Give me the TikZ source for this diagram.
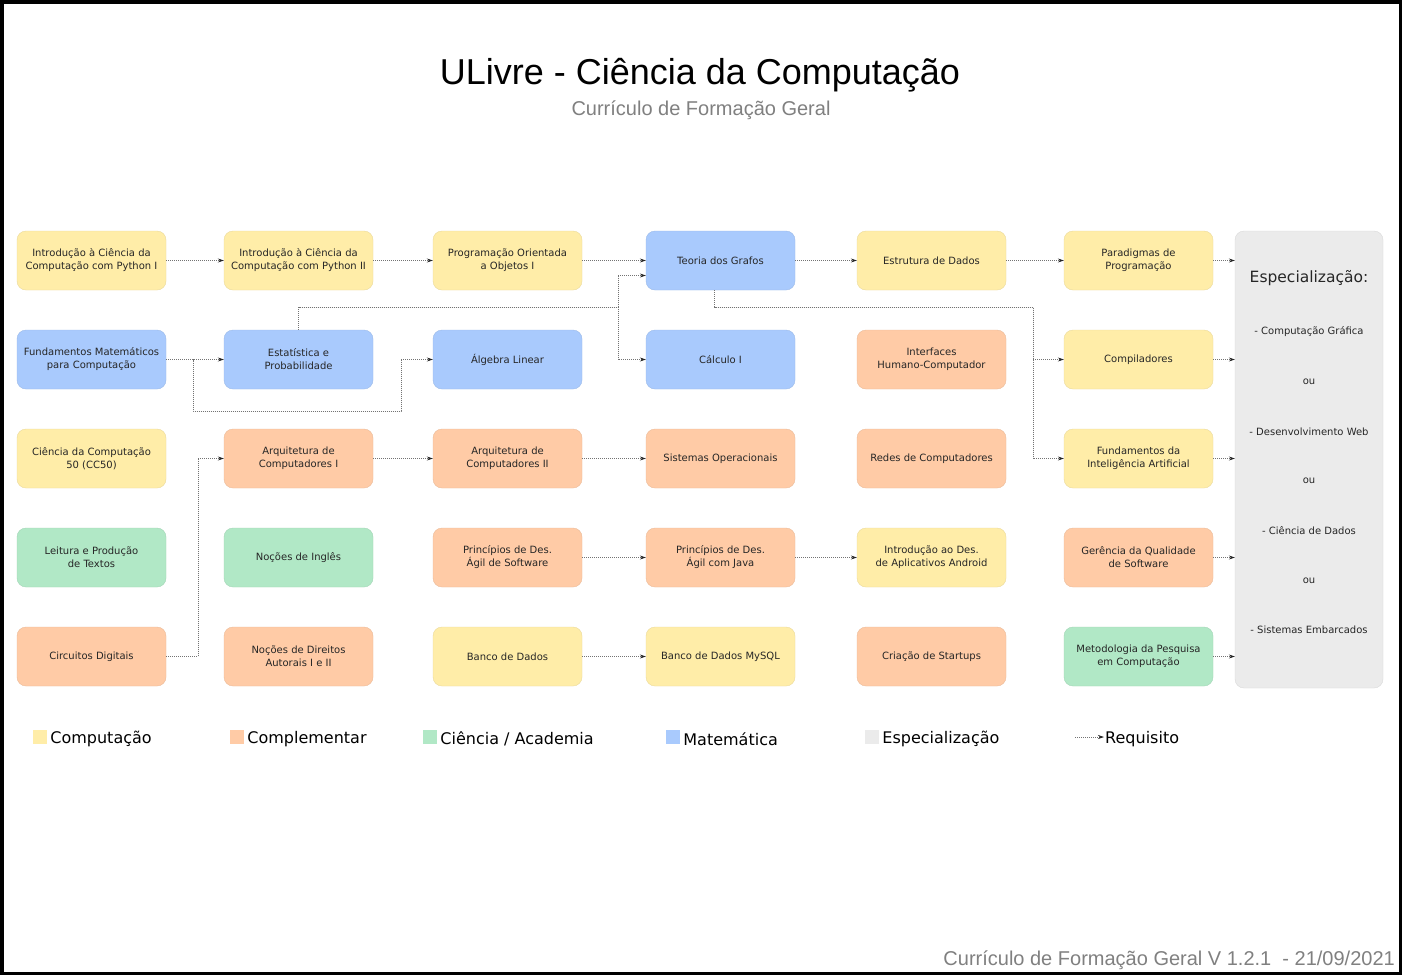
\documentclass[tikz,border=0pt]{standalone}
\usepackage{fontspec}
\usepackage{xcolor}
\usepackage{tikz}
\usetikzlibrary{arrows.meta,positioning,calc}
\newfontfamily\ulsans{DejaVu Sans}
\newfontfamily\ulhead{Liberation Sans}
\definecolor{UlComp}{HTML}{FFEDA8}
\definecolor{UlCompl}{HTML}{FFCBA6}
\definecolor{UlAcad}{HTML}{B1E8C6}
\definecolor{UlMat}{HTML}{A9CAFD}
\definecolor{UlEspec}{HTML}{EBEBEB}
\definecolor{UlGray}{HTML}{808080}
\tikzset{
  curso/.style={rounded corners=9pt, minimum width=149pt, minimum height=59pt,
    align=center, inner sep=2pt, line width=0.4pt, text=black!85,
    font=\ulsans\fontsize{10}{13}\selectfont},
  comp/.style={curso, fill=UlComp, draw=UlComp!92!black},
  compl/.style={curso, fill=UlCompl, draw=UlCompl!92!black},
  acad/.style={curso, fill=UlAcad, draw=UlAcad!92!black},
  mat/.style={curso, fill=UlMat, draw=UlMat!92!black},
  req/.style={draw=black!55, line width=0.7pt, dash pattern=on 1pt off 1pt,
    -{Stealth[length=6pt,width=4pt,color=black!85]}},
  legsq/.style={minimum size=14pt, inner sep=0pt},
  legtxt/.style={inner sep=0pt, yshift=-2pt, text=black, font=\ulsans\fontsize{16}{19}\selectfont},
}
\begin{document}
\begin{tikzpicture}[x=1pt,y=-1pt]
  \useasboundingbox[fill=white] (0,0) rectangle (1402,975);
  \draw[line width=3.5pt] (1.75,1.75) rectangle (1400.25,973.25);

  % titulo
  \node[anchor=base, font=\ulhead\fontsize{36}{40}\selectfont] (titulo) at (700,84)
    {ULivre - Ciência da Computação};
  \node[anchor=base, text=UlGray, font=\ulhead\fontsize{20}{24}\selectfont] (subtitulo) at (701,115)
    {Currículo de Formação Geral};

  % linha 1
  \node[comp] (py1) at (91.5,260.5) {Introdução à Ciência da\\Computação com Python I};
  \node[comp] (py2) at (298.5,260.5) {Introdução à Ciência da\\Computação com Python II};
  \node[comp] (poo) at (507.5,260.5) {Programação Orientada\\a Objetos I};
  \node[mat] (grafos) at (720.5,260.5) {Teoria dos Grafos};
  \node[comp] (ed) at (931.5,260.5) {Estrutura de Dados};
  \node[comp] (paradigmas) at (1138.5,260.5) {Paradigmas de\\Programação};

  % linha 2
  \node[mat] (fundmat) at (91.5,359.5) {Fundamentos Matemáticos\\para Computação};
  \node[mat] (estat) at (298.5,359.5) {Estatística e\\Probabilidade};
  \node[mat] (algebra) at (507.5,359.5) {Álgebra Linear};
  \node[mat] (calculo) at (720.5,359.5) {Cálculo I};
  \node[compl] (ihc) at (931.5,359.5) {Interfaces\\Humano-Computador};
  \node[comp] (compil) at (1138.5,359.5) {Compiladores};

  % linha 3
  \node[comp] (cc50) at (91.5,458.5) {Ciência da Computação\\50 (CC50)};
  \node[compl] (arq1) at (298.5,458.5) {Arquitetura de\\Computadores I};
  \node[compl] (arq2) at (507.5,458.5) {Arquitetura de\\Computadores II};
  \node[compl] (so) at (720.5,458.5) {Sistemas Operacionais};
  \node[compl] (redes) at (931.5,458.5) {Redes de Computadores};
  \node[comp] (ia) at (1138.5,458.5) {Fundamentos da\\Inteligência Artificial};

  % linha 4
  \node[acad] (leitura) at (91.5,557.5) {Leitura e Produção\\de Textos};
  \node[acad] (ingles) at (298.5,557.5) {Noções de Inglês};
  \node[compl] (agilsw) at (507.5,557.5) {Princípios de Des.\\Ágil de Software};
  \node[compl] (agiljava) at (720.5,557.5) {Princípios de Des.\\Ágil com Java};
  \node[comp] (android) at (931.5,557.5) {Introdução ao Des.\\de Aplicativos Android};
  \node[compl] (gqs) at (1138.5,557.5) {Gerência da Qualidade\\de Software};

  % linha 5
  \node[compl] (circuitos) at (91.5,656.5) {Circuitos Digitais};
  \node[compl] (direitos) at (298.5,656.5) {Noções de Direitos\\Autorais I e II};
  \node[comp] (bd) at (507.5,656.5) {Banco de Dados};
  \node[comp] (mysql) at (720.5,656.5) {Banco de Dados MySQL};
  \node[compl] (startups) at (931.5,656.5) {Criação de Startups};
  \node[acad] (metodo) at (1138.5,656.5) {Metodologia da Pesquisa\\em Computação};

  % especializacao
  \node[rounded corners=9pt, minimum width=148pt, minimum height=457pt,
        fill=UlEspec, draw=black!15, line width=0.4pt] (spec) at (1309,459.5) {};
  \node[text=black!85, font=\ulsans\fontsize{15.5}{18}\selectfont] (spectitulo) at (1309,278)
    {Especialização:};
  \foreach \txt [count=\i] in {- Computação Gráfica, ou, - Desenvolvimento Web, ou,
                               - Ciência de Dados, ou, - Sistemas Embarcados}
    \node[text=black!85, font=\ulsans\fontsize{10}{13}\selectfont] (spec\i)
      at (1309,{332+(\i-1)*49.7}) {\txt};

  % requisitos
  \coordinate (fm1) at (193,411);
  \coordinate (fm2) at (401,411);
  \coordinate (es1) at (618,307);
  \coordinate (gr1) at (1033,307);
  \coordinate (ci1) at (198,656.5);
  \draw[req] (py1.east) -- (py2.west);
  \draw[req] (py2.east) -- (poo.west);
  \draw[req] (poo.east) -- (grafos.west);
  \draw[req] (grafos.east) -- (ed.west);
  \draw[req] (ed.east) -- (paradigmas.west);
  \draw[req] (paradigmas.east) -- (paradigmas.east -| spec.west);
  \draw[req] (fundmat.east) -- (estat.west);
  \draw[req] (fundmat.east) -| (fm1) -- (fm2) |- (algebra.west);
  \draw[req] (estat.north) |- (es1) |- ($(grafos.west)+(0,15)$);
  \draw[req] (estat.north) |- (es1) |- (calculo.west);
  \draw[req] ([xshift=-6pt]grafos.south) |- (gr1) |- (compil.west);
  \draw[req] ([xshift=-6pt]grafos.south) |- (gr1) |- (ia.west);
  \draw[req] (compil.east) -- (compil.east -| spec.west);
  \draw[req] (ia.east) -- (ia.east -| spec.west);
  \draw[req] (circuitos.east) -- (ci1) |- (arq1.west);
  \draw[req] (arq1.east) -- (arq2.west);
  \draw[req] (arq2.east) -- (so.west);
  \draw[req] (agilsw.east) -- (agiljava.west);
  \draw[req] (agiljava.east) -- (android.west);
  \draw[req] (gqs.east) -- (gqs.east -| spec.west);
  \draw[req] (bd.east) -- (mysql.west);
  \draw[req] (metodo.east) -- (metodo.east -| spec.west);

  % legenda
  \node[legsq, fill=UlComp] (lgcomp) at (40,737) {};
  \node[legtxt, right=3pt of lgcomp] (lgcomptxt) {Computação};
  \node[legsq, fill=UlCompl] (lgcompl) at (237,737) {};
  \node[legtxt, right=3pt of lgcompl] (lgcompltxt) {Complementar};
  \node[legsq, fill=UlAcad] (lgacad) at (430,737) {};
  \node[legtxt, right=3pt of lgacad] (lgacadtxt) {Ciência / Academia};
  \node[legsq, fill=UlMat] (lgmat) at (673,737) {};
  \node[legtxt, right=3pt of lgmat] (lgmattxt) {Matemática};
  \node[legsq, fill=UlEspec] (lgspec) at (872,737) {};
  \node[legtxt, right=3pt of lgspec] (lgspectxt) {Especialização};
  \coordinate (lgreq1) at (1075,737);
  \coordinate (lgreq2) at (1104,737);
  \draw[req] (lgreq1) -- (lgreq2);
  \node[legtxt, right=1pt of lgreq2] (lgreqtxt) {Requisito};

  % rodape
  \node[anchor=base east, inner sep=0pt, text=UlGray, font=\ulhead\fontsize{20}{24}\selectfont] (rodape) at (1395,965)
    {Currículo de Formação Geral V 1.2.1\ \ - 21/09/2021};
\end{tikzpicture}
\end{document}
